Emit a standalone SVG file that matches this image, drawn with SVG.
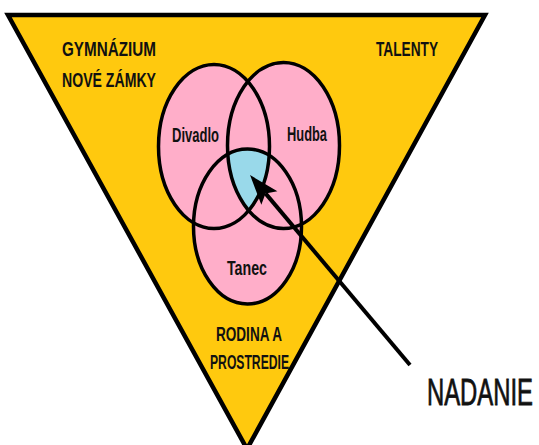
<svg xmlns="http://www.w3.org/2000/svg" width="539" height="445" viewBox="0 0 539 445">
<style>
.lbl{font-family:"Liberation Sans",Arial,sans-serif;font-weight:bold;font-size:20px;fill:#111;}
.big{font-family:"Liberation Sans",Arial,sans-serif;font-size:24px;fill:#111;stroke:#111;stroke-width:0.5;}
.ring{fill:none;stroke:#000;stroke-width:3.5;}
.pink{fill:#FFAEC9;}
</style>
<defs>
<clipPath id="cD"><ellipse cx="214" cy="146.5" rx="55.5" ry="82"/></clipPath>
<clipPath id="cH"><ellipse cx="283.5" cy="145.5" rx="56" ry="83"/></clipPath>
<marker id="ah" viewBox="-32 -12 34 24" refX="-24" refY="0" markerWidth="34" markerHeight="24" markerUnits="userSpaceOnUse" orient="auto">
<path d="M0,0 L-30,-10.5 L-24,0 L-30,10.5 Z" fill="#000"/>
</marker>
</defs>
<rect width="539" height="445" fill="#fff"/>
<g id="triangle">
<polygon points="8,15 485,15 247,449" fill="#FFC90E" stroke="#000" stroke-width="4.5" stroke-linejoin="miter"/>
</g>
<g id="fills">
<ellipse class="pink" cx="214" cy="146.5" rx="55.5" ry="82"/>
<ellipse class="pink" cx="283.5" cy="145.5" rx="56" ry="83"/>
<ellipse class="pink" cx="247.5" cy="226.5" rx="54" ry="77.5"/>
<g clip-path="url(#cD)"><g clip-path="url(#cH)"><ellipse cx="247.5" cy="226.5" rx="54" ry="77.5" fill="#99D9EA"/></g></g>
</g>
<g id="divadlo">
<ellipse class="ring" cx="214" cy="146.5" rx="55.5" ry="82"/>
<text class="lbl" x="172" y="141.5" textLength="47" lengthAdjust="spacingAndGlyphs">Divadlo</text>
</g>
<g id="hudba">
<ellipse class="ring" cx="283.5" cy="145.5" rx="56" ry="83"/>
<text class="lbl" x="287" y="140.5" textLength="40" lengthAdjust="spacingAndGlyphs">Hudba</text>
</g>
<g id="tanec">
<ellipse class="ring" cx="247.5" cy="226.5" rx="54" ry="77.5"/>
<text class="lbl" x="227" y="275" textLength="40" lengthAdjust="spacingAndGlyphs">Tanec</text>
</g>
<g id="gymnazium">
<text class="lbl" x="62" y="56" textLength="94" lengthAdjust="spacingAndGlyphs">GYMNÁZIUM</text>
<text class="lbl" x="62" y="87" textLength="94" lengthAdjust="spacingAndGlyphs">NOVÉ ZÁMKY</text>
</g>
<g id="talenty">
<text class="lbl" x="376" y="56" textLength="62" lengthAdjust="spacingAndGlyphs">TALENTY</text>
</g>
<g id="rodina">
<text class="lbl" x="216" y="340.5" textLength="66" lengthAdjust="spacingAndGlyphs">RODINA A</text>
<text class="lbl" x="210" y="368.5" textLength="79" lengthAdjust="spacingAndGlyphs">PROSTREDIE</text>
</g>
<g id="nadanie">
<text class="big" x="427" y="263" transform="scale(1,1.54)" textLength="106" lengthAdjust="spacingAndGlyphs">NADANIE</text>
</g>
<g id="connectors">
<line x1="410" y1="365" x2="265.5" y2="193.4" stroke="#000" stroke-width="4" marker-end="url(#ah)"/>
</g>
</svg>
